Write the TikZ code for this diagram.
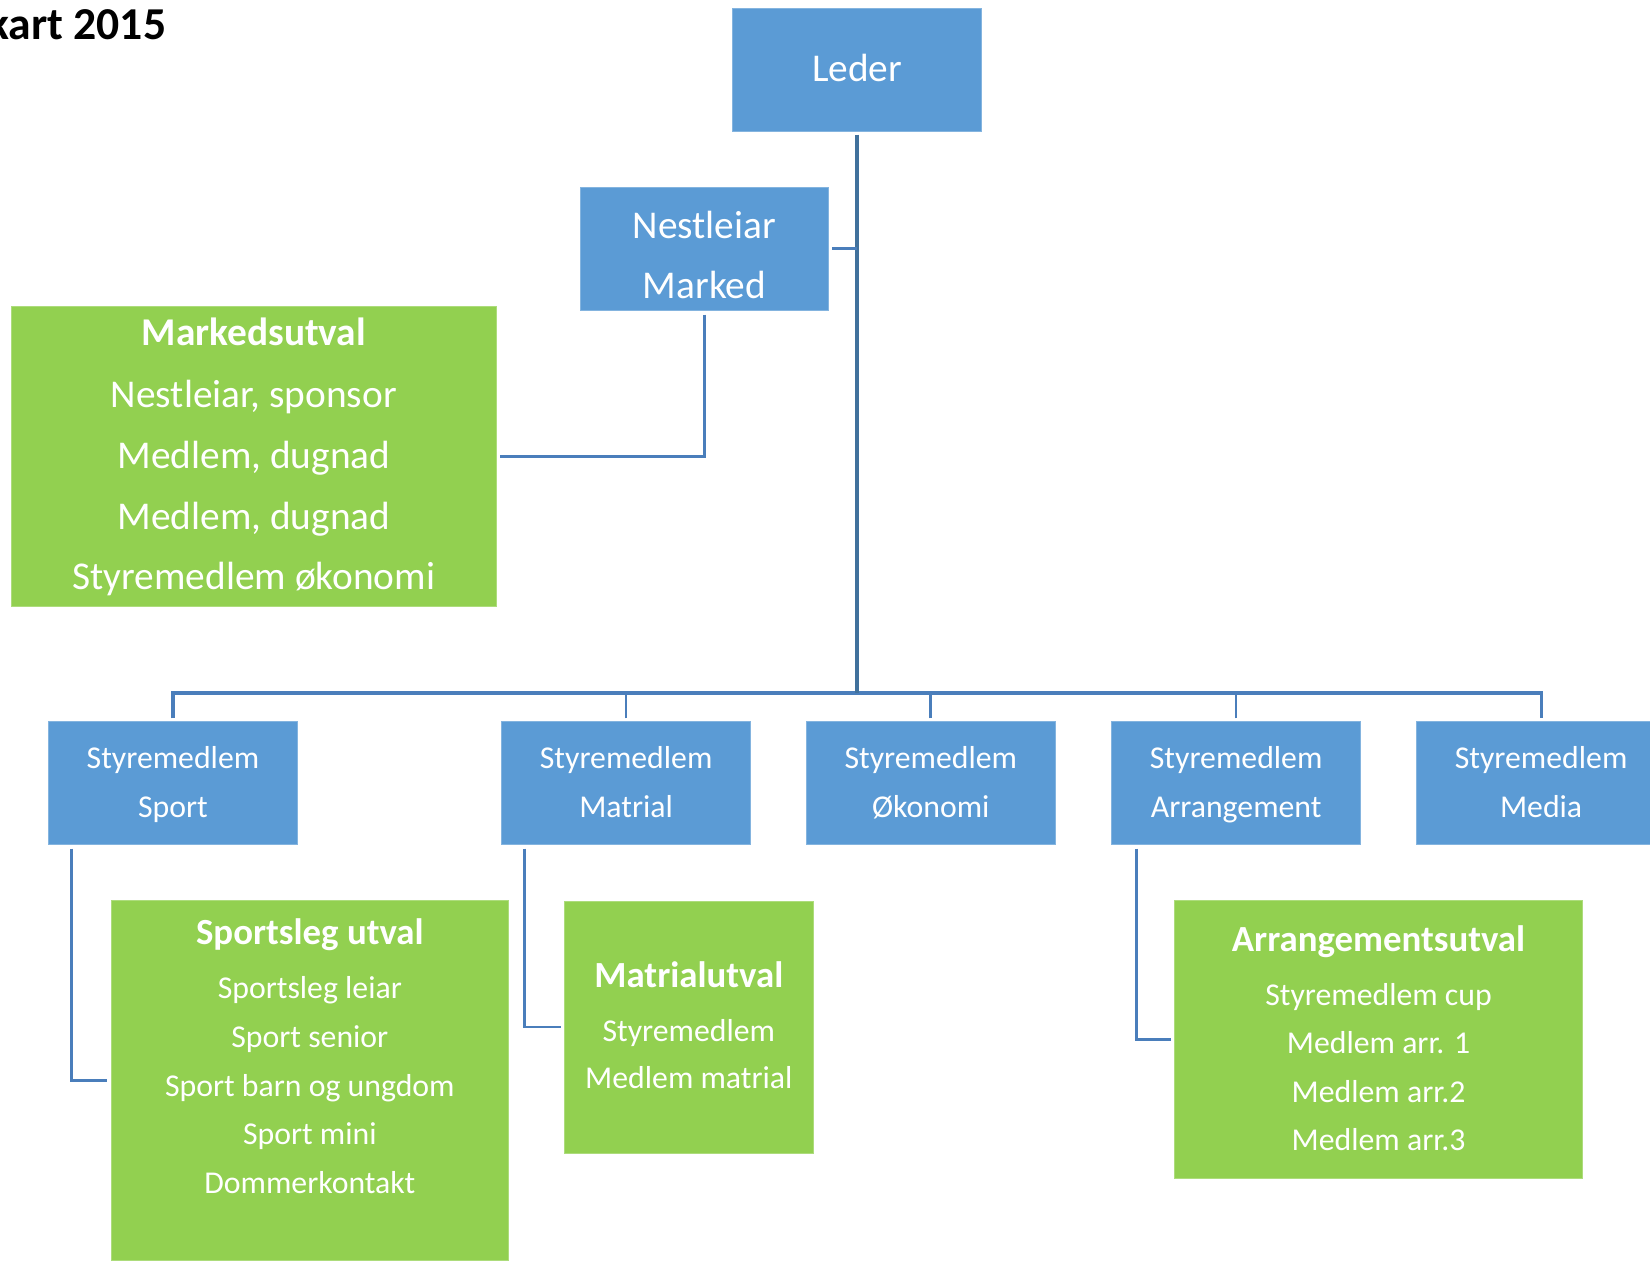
\documentclass[tikz,border=0pt]{standalone}
\usepackage{fontspec}
\setmainfont{Carlito}
\usetikzlibrary{calc}
\definecolor{boxblue}{HTML}{5B9BD5}
\definecolor{boxgreen}{HTML}{92D050}
\definecolor{linkblue}{HTML}{4A7EBB}
\definecolor{trunkblue}{HTML}{41719C}
\begin{document}
\begin{tikzpicture}[x=0.5pt,y=-0.5pt,
  bluebox/.style={fill=boxblue, draw=boxblue!75!white, line width=0.4pt, inner sep=0pt, minimum width=118.25pt, minimum height=58pt},
  greenbox/.style={fill=boxgreen, draw=boxgreen!75!white, line width=0.4pt, inner sep=0pt},
  txt/.style={text=white, inner sep=0pt, align=center},
  conn/.style={draw=linkblue, line width=1.25pt},
  busline/.style={draw=linkblue, line width=1.5pt},
  trunk/.style={draw=trunkblue, line width=1.9pt}]
\useasboundingbox (0,0) rectangle (1568,1198);

% title
\node[anchor=base east, inner sep=0pt, font=\fontsize{21.7}{26}\selectfont\bfseries] (title) at (158.4,37.4) {kart 2015};

% leader
\node[bluebox, minimum width=118.5pt, minimum height=58.25pt] (lead) at (814.5,66.25) {};
\node[txt, anchor=base, font=\fontsize{18.7}{22}\selectfont] (leadT) at (814.5,77) {Leder};

% deputy
\node[bluebox, minimum height=58.25pt] (nest) at (669.4,236.3) {};
\node[txt, anchor=north, font=\fontsize{18.7}{28.55}\selectfont] (nestT) at (669.4,186.4) {\strut Nestleiar\\\strut Marked};

% Markedsutval
\node[greenbox, minimum width=230.75pt, minimum height=142.3pt] (mark) at (241.25,433.7) {};
\node[txt, anchor=base, font=\fontsize{18.7}{22}\selectfont\bfseries] (markH) at (241.25,328.5) {Markedsutval};
\node[txt, anchor=north, font=\fontsize{18.7}{28.95}\selectfont] (markT) at (241.25,346) {\strut Nestleiar, sponsor\\\strut Medlem, dugnad\\\strut Medlem, dugnad\\\strut Styremedlem økonomi};

% board members
\foreach \n/\x/\t in {sport/164.35/Sport, matr/595/Matrial, okon/884.5/Økonomi, arr/1174.7/Arrangement, media/1464.5/Media}{
  \node[bluebox] (\n) at (\x,744) {};
  \node[txt, anchor=north, font=\fontsize{15.1}{23}\selectfont] (\n-t) at (\x,697.8) {\strut Styremedlem\\\strut \t};
}

% committees
\node[greenbox, minimum width=188.95pt, minimum height=171pt] (sportu) at (294.45,1027) {};
\node[txt, anchor=base, font=\fontsize{17.5}{21}\selectfont\bfseries] (sportuH) at (294.45,898) {Sportsleg utval};
\node[txt, anchor=north, font=\fontsize{15.1}{23.1}\selectfont] (sportuT) at (294.45,916.4) {\strut Sportsleg leiar\\\strut Sport senior\\\strut Sport barn og ungdom\\\strut Sport mini\\\strut Dommerkontakt};

\node[greenbox, minimum width=118.3pt, minimum height=119.9pt] (matu) at (654.6,976.1) {};
\node[txt, anchor=base, font=\fontsize{17.5}{21}\selectfont\bfseries] (matuH) at (654.6,938.3) {Matrialutval};
\node[txt, anchor=north, font=\fontsize{15.1}{22.65}\selectfont] (matuT) at (654.6,957.3) {\strut Styremedlem\\\strut Medlem matrial};

\node[greenbox, minimum width=194pt, minimum height=132pt] (arru) at (1310,988) {};
\node[txt, anchor=base, font=\fontsize{17.5}{21}\selectfont\bfseries] (arruH) at (1310,904) {Arrangementsutval};
\node[txt, anchor=north, font=\fontsize{15.1}{23}\selectfont] (arruT) at (1310,922.8) {\strut Styremedlem cup\\\strut Medlem arr. 1\\\strut Medlem arr.2\\\strut Medlem arr.3};

% connectors
\coordinate (bus) at (814.5,658.5);
\draw[busline] ($(sport.north)+(0,-3)$) |- (bus) -| ($(media.north)+(0,-3)$);
\foreach \n in {matr,okon,arr}
  \draw[conn] ($(\n.north)+(0,-3)$) -- (\n.north |- bus);
\draw[trunk] ($(lead.south)+(0,3)$) -- (bus);
\draw[conn] ($(nest.east)+(3,0)$) -- (nest.east -| bus);
\draw[conn] ($(nest.south)+(0,4)$) |- ($(mark.east)+(3,0)$);
\draw[conn] ($(sport.south west)+(22,4)$) |- ($(sportu.west)+(-3,0)$);
\draw[conn] ($(matr.south west)+(22.25,4)$) |- ($(matu.west)+(-3,0)$);
\draw[conn] ($(arr.south west)+(24,4)$) |- ($(arru.west)+(-3,0)$);
\end{tikzpicture}
\end{document}
